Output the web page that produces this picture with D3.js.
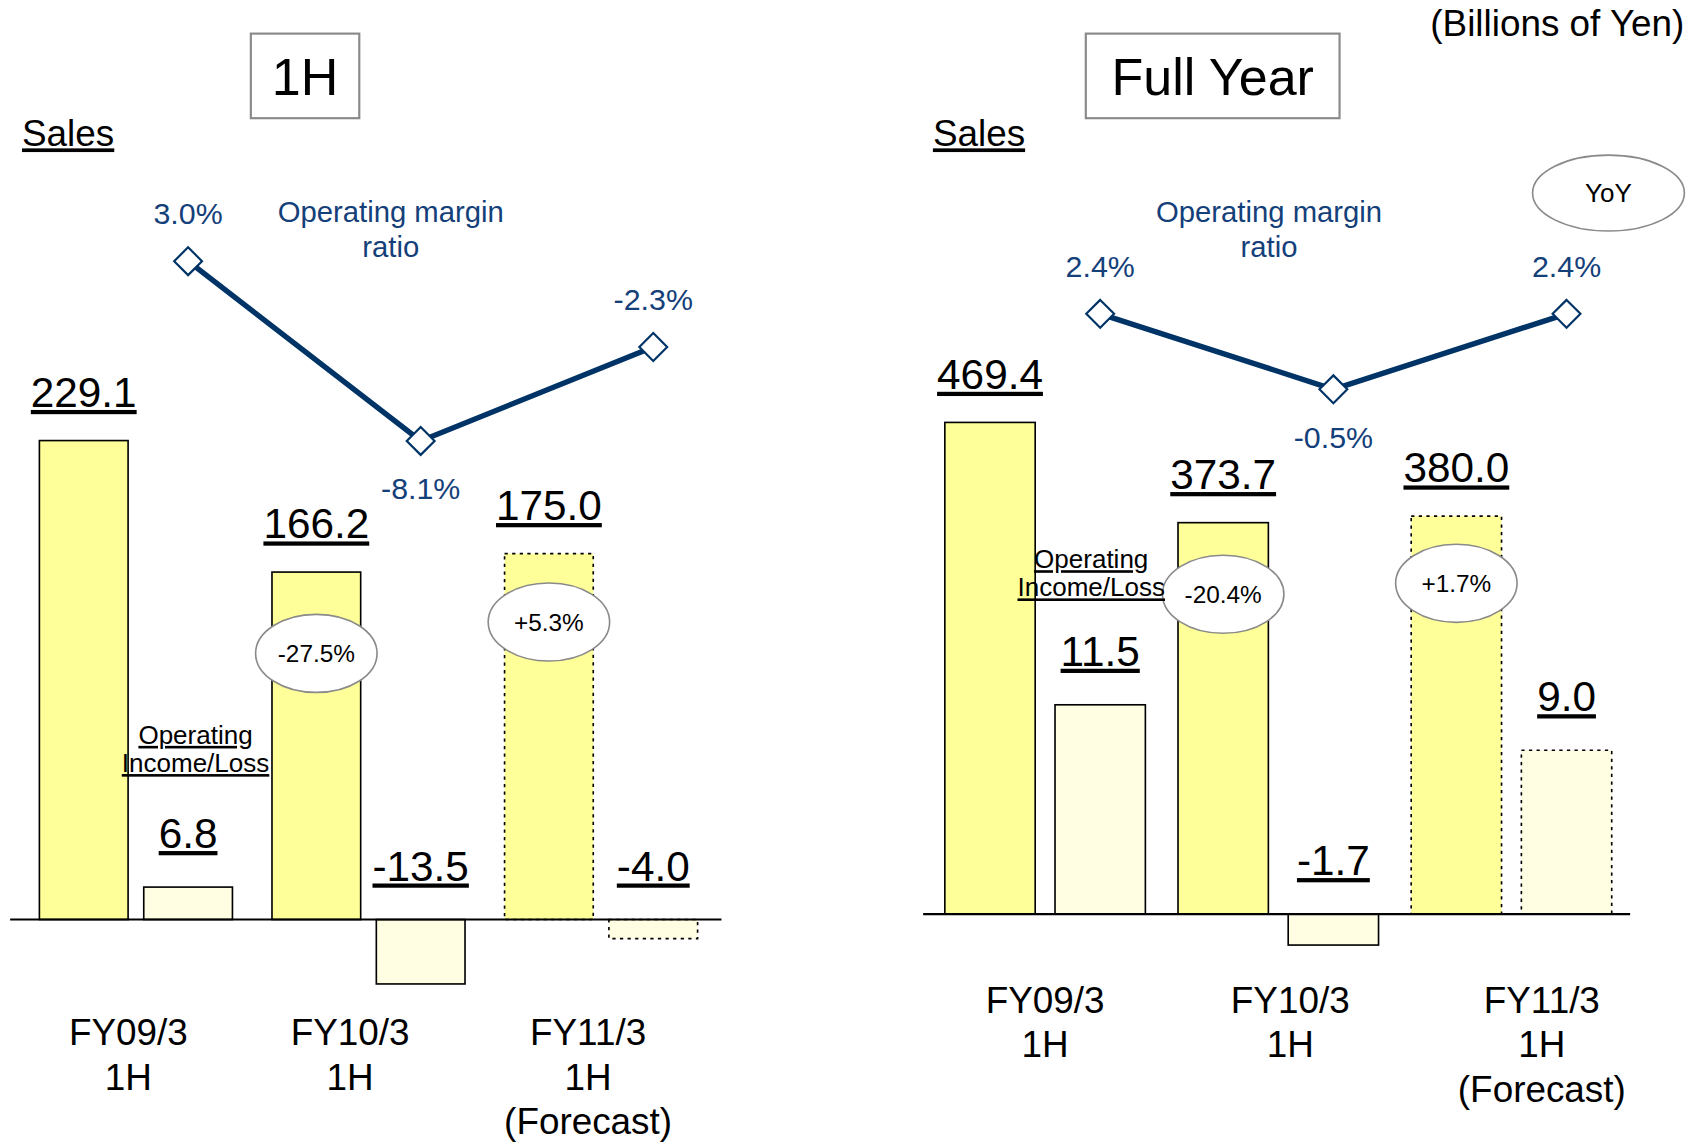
<!DOCTYPE html>
<html>
<head>
<meta charset="utf-8">
<script src="https://cdn.jsdelivr.net/npm/d3@7"></script>
<style>
  body { margin: 0; background: #fff; }
  svg { display: block; font-family: "Liberation Sans", Arial, sans-serif; }
</style>
</head>
<body>
<svg id="chart" width="1701" height="1144" viewBox="0 0 1568 1055"></svg>
<script>
// values in billions of yen
var categories = [["FY09/3", "1H"], ["FY10/3", "1H"], ["FY11/3", "1H", "(Forecast)"]];
var forecast = [false, false, true];

var halfSales = [229.1, 166.2, 175.0];
var halfIncome = [6.8, -13.5, -4.0];
var halfMargin = [3.0, -8.1, -2.3];
var halfYoY = [null, "-27.5%", "+5.3%"];

var fullSales = [469.4, 373.7, 380.0];
var fullIncome = [11.5, -1.7, 9.0];
var fullMargin = [2.4, -0.5, 2.4];
var fullYoY = [null, "-20.4%", "+1.7%"];

var navy = "#003366";
var svg = d3.select("#chart");

svg.append("text")
  .attr("x", 1553).attr("y", 33)
  .attr("text-anchor", "end")
  .style("font-size", "34px")
  .text("(Billions of Yen)");

// YoY legend bubble
svg.append("ellipse")
  .attr("cx", 1483).attr("cy", 178).attr("rx", 70).attr("ry", 35)
  .attr("fill", "#fff").attr("stroke", "#8a8a8a").attr("stroke-width", 1.5);
svg.append("text")
  .attr("x", 1483).attr("y", 186).attr("text-anchor", "middle")
  .style("font-size", "24px").text("YoY");

var panels = [
  { title: "1H", box: [231, 31, 100, 78], salesX: 20,
    sales: halfSales, income: halfIncome, margin: halfMargin, yoy: halfYoY,
    x0: 36, x1: 643, groupPad: 0.17, innerPad: 0.15, base: 848, axis: [9, 665],
    salesMax: 250, salesPx: 482, incDomain: [-15, 10], incPx: 110,
    marDomain: [-10, 5], marRange: [435, 211],
    marLabel: [360, 196], incLabel: [180, 678], yoyDy: [75, 63],
    catY: 116, catDx: [-7, -17, -12] },
  { title: "Full Year", box: [1001, 31, 234, 78], salesX: 860,
    sales: fullSales, income: fullIncome, margin: fullMargin, yoy: fullYoY,
    x0: 871, x1: 1486, groupPad: 0.14, innerPad: 0.18, base: 843, axis: [851, 1503],
    salesMax: 500, salesPx: 483, incDomain: [-2, 12], incPx: 235,
    marDomain: [-1, 3], marRange: [371, 275],
    marLabel: [1170, 196], incLabel: [1006, 516], yoyDy: [66, 62],
    catY: 91, catDx: [0, 11, 28] }
];

panels.forEach(function(p) {
  var g = svg.append("g");
  var idx = d3.range(categories.length);

  var xGroup = d3.scaleBand().domain(idx).range([p.x0, p.x1]).paddingInner(p.groupPad);
  var xInner = d3.scaleBand().domain(["sales", "income"])
    .range([0, xGroup.bandwidth()]).paddingInner(p.innerPad);

  var ySales = d3.scaleLinear().domain([0, p.salesMax]).range([p.base, p.base - p.salesPx]);
  var incUnit = p.incPx / (p.incDomain[1] - p.incDomain[0]);
  var yInc = d3.scaleLinear().domain(p.incDomain)
    .range([p.base - p.incDomain[0] * incUnit, p.base - p.incDomain[1] * incUnit]);
  var yMar = d3.scaleLinear().domain(p.marDomain).range(p.marRange);

  // title box
  g.append("rect")
    .attr("x", p.box[0]).attr("y", p.box[1]).attr("width", p.box[2]).attr("height", p.box[3])
    .attr("fill", "#fff").attr("stroke", "#8a8a8a").attr("stroke-width", 2);
  g.append("text")
    .attr("x", p.box[0] + p.box[2] / 2).attr("y", p.box[1] + 57)
    .attr("text-anchor", "middle").style("font-size", "48px").text(p.title);

  g.append("text")
    .attr("x", p.salesX).attr("y", 135)
    .style("font-size", "34px").style("text-decoration", "underline")
    .text("Sales");

  // sales bars
  g.selectAll(".sales").data(p.sales).enter().append("rect")
    .attr("class", "sales")
    .attr("x", (d, i) => xGroup(i) + xInner("sales"))
    .attr("width", xInner.bandwidth())
    .attr("y", d => ySales(d))
    .attr("height", d => ySales(0) - ySales(d))
    .attr("fill", "#ffff99")
    .attr("stroke", "#000").attr("stroke-width", 1.5)
    .attr("stroke-dasharray", (d, i) => forecast[i] ? "3,4" : null);

  // operating income bars
  g.selectAll(".income").data(p.income).enter().append("rect")
    .attr("class", "income")
    .attr("x", (d, i) => xGroup(i) + xInner("income"))
    .attr("width", xInner.bandwidth())
    .attr("y", d => yInc(Math.max(0, d)))
    .attr("height", d => Math.abs(yInc(d) - yInc(0)))
    .attr("fill", "#fffde2")
    .attr("stroke", "#000").attr("stroke-width", 1.5)
    .attr("stroke-dasharray", (d, i) => forecast[i] ? "3,4" : null);

  // baseline
  g.append("line")
    .attr("x1", p.axis[0]).attr("x2", p.axis[1])
    .attr("y1", p.base).attr("y2", p.base)
    .attr("stroke", "#000").attr("stroke-width", 2);

  // value labels
  g.selectAll(".slab").data(p.sales).enter().append("text")
    .attr("x", (d, i) => xGroup(i) + xInner("sales") + xInner.bandwidth() / 2)
    .attr("y", d => ySales(d) - 31)
    .attr("text-anchor", "middle")
    .style("font-size", "39px").style("text-decoration", "underline")
    .text(d => d.toFixed(1));

  g.selectAll(".ilab").data(p.income).enter().append("text")
    .attr("x", (d, i) => xGroup(i) + xInner("income") + xInner.bandwidth() / 2)
    .attr("y", d => yInc(Math.max(0, d)) - 36)
    .attr("text-anchor", "middle")
    .style("font-size", "39px").style("text-decoration", "underline")
    .text(d => d.toFixed(1));

  // YoY bubbles
  var yoyData = idx.filter(i => p.yoy[i]);
  yoyData.forEach(function(i, k) {
    var cx = xGroup(i) + xInner("sales") + xInner.bandwidth() / 2;
    var cy = ySales(p.sales[i]) + p.yoyDy[k];
    g.append("ellipse")
      .attr("cx", cx).attr("cy", cy).attr("rx", 56).attr("ry", 36)
      .attr("fill", "#fff").attr("stroke", "#8a8a8a").attr("stroke-width", 1.5);
    g.append("text")
      .attr("x", cx).attr("y", cy + 8).attr("text-anchor", "middle")
      .style("font-size", "22.5px").text(p.yoy[i]);
  });

  // operating income label
  ["Operating", "Income/Loss"].forEach(function(t, k) {
    g.append("text")
      .attr("x", p.incLabel[0]).attr("y", p.incLabel[1] + 8 + k * 26)
      .attr("text-anchor", "middle")
      .style("font-size", "24px").style("text-decoration", "underline")
      .text(t);
  });

  // operating margin line
  var mx = i => xGroup(i) + xInner("income") + xInner.bandwidth() / 2;
  var line = d3.line().x((d, i) => mx(i)).y(d => yMar(d));
  g.append("path")
    .attr("d", line(p.margin))
    .attr("fill", "none").attr("stroke", navy).attr("stroke-width", 5);

  g.selectAll(".dia").data(p.margin).enter().append("path")
    .attr("d", d3.symbol().type(d3.symbolDiamond2).size(420))
    .attr("transform", (d, i) => "translate(" + mx(i) + "," + yMar(d) + ")")
    .attr("fill", "#fff").attr("stroke", navy).attr("stroke-width", 2);

  var minMar = d3.min(p.margin);
  g.selectAll(".mlab").data(p.margin).enter().append("text")
    .attr("x", (d, i) => mx(i))
    .attr("y", d => yMar(d) + (d === minMar ? 54 : -34))
    .attr("text-anchor", "middle")
    .attr("fill", "#14407a")
    .style("font-size", "28px")
    .text(d => d.toFixed(1) + "%");

  ["Operating margin", "ratio"].forEach(function(t, k) {
    g.append("text")
      .attr("x", p.marLabel[0]).attr("y", p.marLabel[1] + 9 + k * 32)
      .attr("text-anchor", "middle").attr("fill", "#14407a")
      .style("font-size", "27px").text(t);
  });

  // category labels
  var cat = g.selectAll(".cat").data(categories).enter().append("text")
    .attr("text-anchor", "middle")
    .style("font-size", "34px")
    .attr("transform", (d, i) => "translate(" + (xGroup(i) + xGroup.bandwidth() / 2 + p.catDx[i]) + "," + (p.base + p.catY) + ")");
  cat.selectAll("tspan").data(d => d).enter().append("tspan")
    .attr("x", 0).attr("dy", (d, k) => k === 0 ? 0 : 41)
    .text(d => d);
});
</script>
</body>
</html>
